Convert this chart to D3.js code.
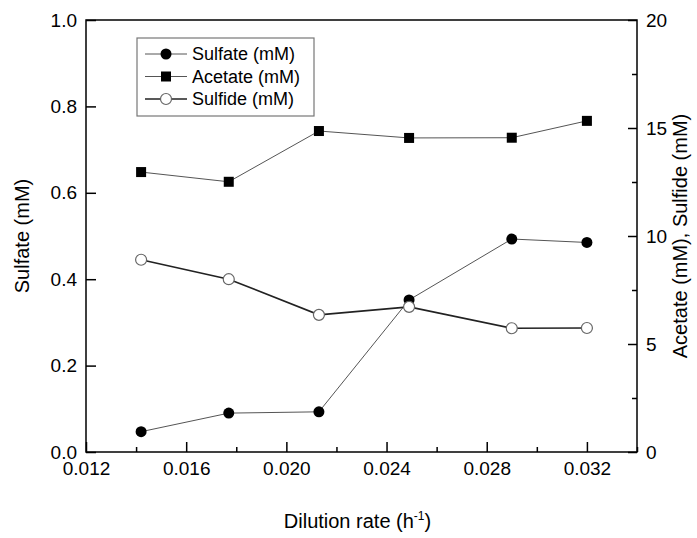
<!DOCTYPE html>
<html>
<head>
<meta charset="utf-8">
<script src="https://cdn.jsdelivr.net/npm/d3@7"></script>
<style>
  body { margin: 0; background: #fff; }
  text { font-family: "Liberation Sans", Arial, sans-serif; fill: #000; }
</style>
</head>
<body>
<script>
// data
var dilution = [0.0142, 0.0177, 0.0213, 0.0249, 0.0290, 0.0320];
var sulfate = [0.047, 0.090, 0.093, 0.352, 0.493, 0.485];   // left axis
var acetate = [12.96, 12.51, 14.86, 14.54, 14.55, 15.33];   // right axis
var sulfide = [8.90, 8.00, 6.35, 6.72, 5.73, 5.74];         // right axis
var xTicks = [0.012, 0.016, 0.020, 0.024, 0.028, 0.032];
var leftTicks = [0, 0.2, 0.4, 0.6, 0.8, 1.0];
var rightTicks = [0, 5, 10, 15, 20];
var legendNames = ["Sulfate (mM)", "Acetate (mM)", "Sulfide (mM)"];

var width = 697, height = 538;
var pLeft = 86, pRight = 637, pTop = 20, pBottom = 452;

var x = d3.scaleLinear().domain([0.012, 0.034]).range([pLeft, pRight]);
var yL = d3.scaleLinear().domain([0, 1]).range([pBottom, pTop]);
var yR = d3.scaleLinear().domain([0, 20]).range([pBottom, pTop]);

var svg = d3.select("body").append("svg")
    .attr("width", width)
    .attr("height", height);

// minor ticks first (no labels)
svg.append("g")
    .attr("transform", "translate(0," + pBottom + ")")
    .call(d3.axisBottom(x).tickValues(d3.range(0.014, 0.034, 0.004)).tickSize(-5).tickFormat(""));
svg.append("g")
    .attr("transform", "translate(" + pRight + ",0)")
    .call(d3.axisRight(yR).tickValues([2.5, 7.5, 12.5, 17.5]).tickSize(-5).tickFormat(""));

// main axes, ticks pointing inward
var xAxis = svg.append("g")
    .attr("transform", "translate(0," + pBottom + ")")
    .call(d3.axisBottom(x).tickValues(xTicks).tickSize(-10).tickPadding(4).tickFormat(d3.format(".3f")));
xAxis.selectAll("text").attr("y", 6).attr("dy", "0.9em");

svg.append("g")
    .attr("transform", "translate(" + pLeft + ",0)")
    .call(d3.axisLeft(yL).tickValues(leftTicks).tickSize(-10).tickPadding(10).tickFormat(d3.format(".1f")))
    .selectAll("text").attr("x", -9);

svg.append("g")
    .attr("transform", "translate(" + pRight + ",0)")
    .call(d3.axisRight(yR).tickValues(rightTicks).tickSize(-9).tickPadding(9).tickFormat(d3.format("d")))
    .selectAll("text").attr("x", 9);

svg.selectAll(".domain").remove();
svg.selectAll(".tick line").attr("stroke", "#000").attr("stroke-width", 1.5);
svg.selectAll(".tick text").style("font-size", "19px").style("font-family", "'Liberation Sans', Arial, sans-serif").attr("fill", "#000");

// frame
svg.append("rect")
    .attr("x", pLeft).attr("y", pTop)
    .attr("width", pRight - pLeft).attr("height", pBottom - pTop)
    .attr("fill", "none").attr("stroke", "#000").attr("stroke-width", 1.5);

// axis titles
svg.append("text")
    .attr("transform", "translate(29," + ((pTop + pBottom) / 2) + ") rotate(-90)")
    .attr("text-anchor", "middle")
    .style("font-size", "20px")
    .text("Sulfate (mM)");

svg.append("text")
    .attr("transform", "translate(687," + ((pTop + pBottom) / 2) + ") rotate(-90)")
    .attr("text-anchor", "middle")
    .style("font-size", "20px")
    .text("Acetate (mM), Sulfide (mM)");

var xt = svg.append("text")
    .attr("x", (pLeft + pRight) / 2 - 4)
    .attr("y", 528)
    .attr("text-anchor", "middle")
    .style("font-size", "20px");
xt.append("tspan").text("Dilution rate (h");
xt.append("tspan").text("-1").style("font-size", "12px").attr("dy", "-8");
xt.append("tspan").text(")").attr("dy", "8");

// series
var series = [
  { vals: sulfate, y: yL, line: "#555", lw: 1, shape: "circle" },
  { vals: acetate, y: yR, line: "#555", lw: 1, shape: "square" },
  { vals: sulfide, y: yR, line: "#222", lw: 1.6, shape: "open" }
];

function drawMarker(g, shape, cx, cy) {
  if (shape === "circle") {
    g.append("circle").attr("cx", cx).attr("cy", cy).attr("r", 5.5).attr("fill", "#000");
  } else if (shape === "square") {
    g.append("rect").attr("x", cx - 5).attr("y", cy - 5).attr("width", 10).attr("height", 10).attr("fill", "#000");
  } else {
    g.append("circle").attr("cx", cx).attr("cy", cy).attr("r", 5.5)
      .attr("fill", "#fff").attr("stroke", "#666").attr("stroke-width", 1.2);
  }
}

series.forEach(function(s) {
  var line = d3.line()
      .x(function(d, i) { return x(dilution[i]); })
      .y(function(d) { return s.y(d); });
  svg.append("path")
      .datum(s.vals)
      .attr("d", line)
      .attr("fill", "none")
      .attr("stroke", s.line)
      .attr("stroke-width", s.lw);
  var g = svg.append("g");
  s.vals.forEach(function(v, i) { drawMarker(g, s.shape, x(dilution[i]), s.y(v)); });
});

// legend
var lg = svg.append("g");
lg.append("rect")
    .attr("x", 137).attr("y", 38).attr("width", 177).attr("height", 78)
    .attr("fill", "#fff").attr("stroke", "#777").attr("stroke-width", 1.2);
legendNames.forEach(function(name, i) {
  var yy = 54 + i * 22.5;
  var s = series[i];
  lg.append("line")
      .attr("x1", 145).attr("x2", 187).attr("y1", yy).attr("y2", yy)
      .attr("stroke", s.line).attr("stroke-width", s.lw);
  drawMarker(lg, s.shape, 166, yy);
  lg.append("text")
      .attr("x", 192).attr("y", yy).attr("dy", "0.35em")
      .style("font-size", "18px")
      .text(name);
});
</script>
</body>
</html>
